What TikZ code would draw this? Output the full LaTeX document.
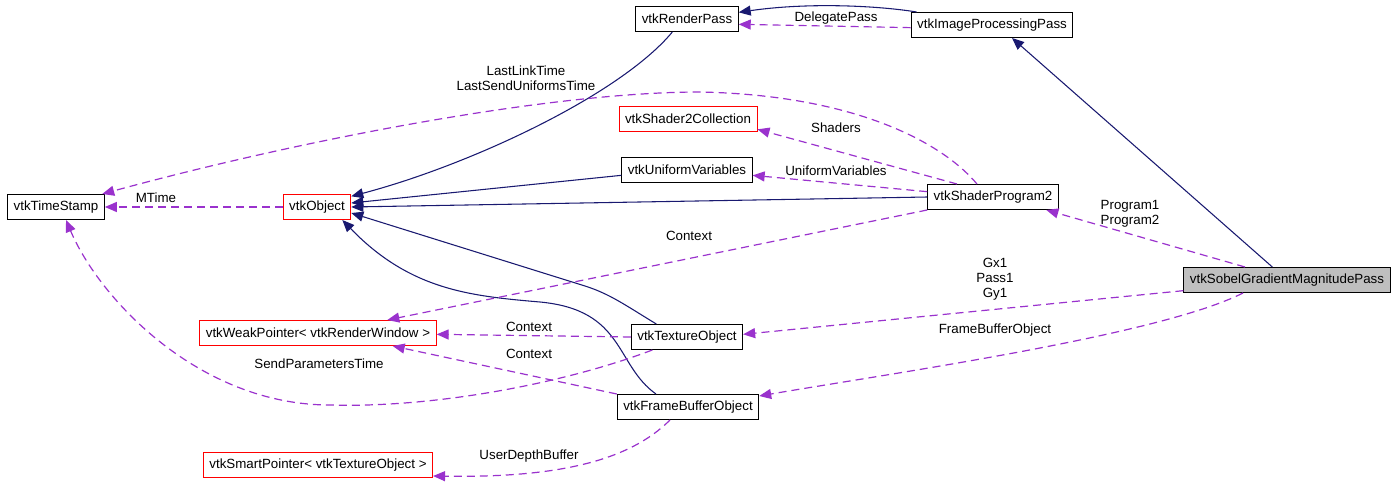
\documentclass[tikz,border=0pt]{standalone}
\usepackage{fontspec}
\setmainfont{Liberation Sans}
\usepackage{tikz}
\usetikzlibrary{arrows.meta}
\definecolor{inhnavy}  {HTML}{191970}
\definecolor{usepurple}{HTML}{9A32CD}
\definecolor{boxred}   {HTML}{FF0000}
\definecolor{boxgray}  {HTML}{BFBFBF}

\begin{document}
\begin{tikzpicture}[
    x=0.75pt, y=-0.75pt,
    font=\fontsize{10}{11.25}\selectfont,
    cls/.style={draw=black, fill=white, line width=0.75pt,
                minimum height=18.75pt, inner xsep=4.5pt, inner ysep=0pt},
    redcls/.style={cls, draw=boxred},
    lbl/.style={inner sep=0pt, align=center},
    inh/.style={-{Triangle[length=9pt, width=7.5pt]}, line width=0.8pt, color=inhnavy},
    use/.style={-{Triangle[length=9pt, width=7.5pt]}, line width=0.9pt, color=usepurple,
                dash pattern=on 6pt off 3.75pt},
  ]
    \useasboundingbox (0,0) rectangle (1400,485);

    % classes
    \node[cls]    (rp)    at (687,19)  {vtkRenderPass};
    \node[cls]    (ipp)   at (992,25)  {vtkImageProcessingPass};
    \node[redcls] (sc)    at (688,119) {vtkShader2Collection};
    \node[cls]    (uv)    at (687,170) {vtkUniformVariables};
    \node[cls]    (sp)    at (993,197) {vtkShaderProgram2};
    \node[cls]    (ts)    at (56,207)  {vtkTimeStamp};
    \node[redcls] (obj)   at (317,207) {vtkObject};
    \node[cls, fill=boxgray] (sobel) at (1287,280) {vtkSobelGradientMagnitudePass};
    \node[redcls] (wp)    at (318,333) {vtkWeakPointer< vtkRenderWindow >};
    \node[cls]    (tex)   at (687,337) {vtkTextureObject};
    \node[cls]    (fbo)   at (688,407) {vtkFrameBufferObject};
    \node[redcls] (smp)   at (318,465) {vtkSmartPointer< vtkTextureObject >};

    % inheritance
    \draw[inh] ([xshift=4.5pt]ipp.north west) .. controls (880,6) and (810,2) .. ([yshift=5pt]rp.east);
    \draw[inh] ([xshift=-11pt]sobel.north) -- ([xshift=15pt]ipp.south);
    \draw[inh] ([xshift=-11pt]rp.south) .. controls (620,95) and (470,165) .. ([yshift=8pt]obj.east);
    \draw[inh] ([yshift=-4pt]uv.west) -- ([yshift=3pt]obj.east);
    \draw[inh] (sp.west) -- (obj.east);
    \draw[inh] ([xshift=-23pt]tex.north) .. controls (625,305) and (610,294) .. (585,286)
               -- ([yshift=-4.5pt]obj.east);
    \draw[inh] ([xshift=-24pt]fbo.north) .. controls (615,365) and (625,310) .. (540,302)
               .. controls (470,296) and (410,290) .. ([xshift=19pt]obj.south);

    % members
    \draw[use] ([yshift=-2pt]ipp.west) -- ([yshift=-4pt]rp.east);
    \draw[use] ([xshift=-12pt]sp.north) .. controls (940,140) and (850,95) .. (700,92)
               .. controls (550,92) and (300,140) .. ([xshift=-2pt]ts.north east);
    \draw[use] ([xshift=-27pt]sp.north) -- ([yshift=2pt]sc.south east);
    \draw[use] ([yshift=4pt]sp.west) -- ([yshift=-4pt]uv.east);
    \draw[use] (obj.west) -- (ts.east);
    \draw[use] (sp.south west) -- ([xshift=52pt]wp.north);
    \draw[use] ([xshift=-31.5pt]sobel.north) -- ([xshift=40pt]sp.south);
    \draw[use] ([yshift=-8pt]sobel.west) -- ([yshift=2pt]tex.east);
    \draw[use] ([xshift=-33pt]sobel.south) .. controls (1160,335) and (900,372) .. ([yshift=-1.5pt]fbo.north east);
    \draw[use] (tex.west) -- ([yshift=-1pt]wp.east);
    \draw[use] (fbo.north west) -- ([xshift=56pt]wp.south);
    \draw[use] ([xshift=-26pt]tex.south) .. controls (560,385) and (430,408) .. (330,405)
               .. controls (200,405) and (100,300) .. ([xshift=7.5pt]ts.south);
    \draw[use] ([xshift=-13.5pt]fbo.south) .. controls (630,460) and (560,478) .. ([yshift=1.5pt]smp.south east);

    % labels
    \node[lbl] (lDelegate) at (836,18)  {DelegatePass};
    \node[lbl] (lLink)     at (526,78)  {LastLinkTime\\LastSendUniformsTime};
    \node[lbl] (lShaders)  at (836,128) {Shaders};
    \node[lbl] (lUniform)  at (836,171) {UniformVariables};
    \node[lbl] (lMTime)    at (156,198) {MTime};
    \node[lbl] (lCtxSp)    at (689,236) {Context};
    \node[lbl] (lProgram)  at (1130,214) {Program1\\Program2};
    \node[lbl] (lGx)       at (995,279) {Gx1\\Pass1\\Gy1};
    \node[lbl] (lFbo)      at (995,330) {FrameBufferObject};
    \node[lbl] (lCtxTex)   at (529,327) {Context};
    \node[lbl] (lCtxFbo)   at (529,354) {Context};
    \node[lbl] (lSend)     at (319,364) {SendParametersTime};
    \node[lbl] (lDepth)    at (529,456) {UserDepthBuffer};
  \end{tikzpicture}
\end{document}
